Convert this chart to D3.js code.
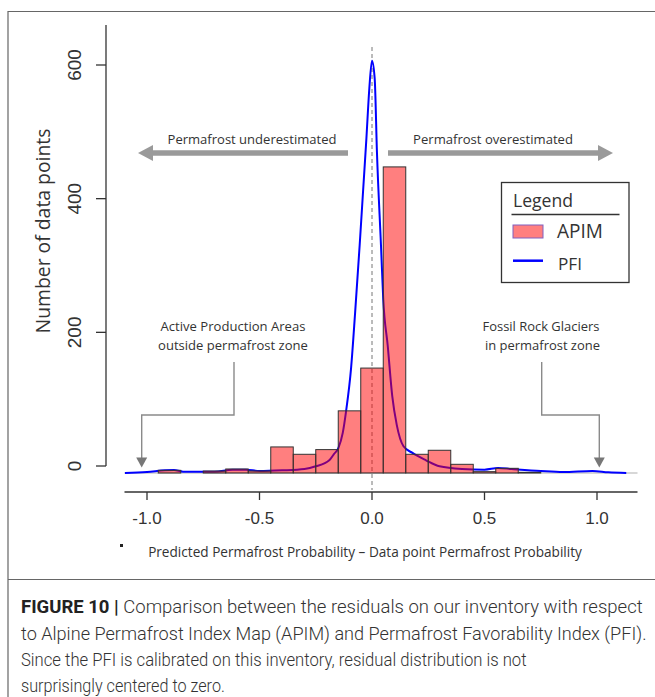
<!DOCTYPE html>
<html><head><meta charset="utf-8">
<script src="https://cdn.jsdelivr.net/npm/d3@7"></script>
<style>body{margin:0;background:#fff} svg{display:block}</style>
</head><body>
<script>
// ---------- data ----------
const binCenters = [-0.9,-0.8,-0.7,-0.6,-0.5,-0.4,-0.3,-0.2,-0.1,0.0,0.1,0.2,0.3,0.4,0.5,0.6,0.7];
const apimCounts = [4,0,3,6,3,39,28,35,93,157,458,28,34,13,2,7,1];
const binWidth = 0.1;

const pfiX = [-1.098,-1.0,-0.92,-0.88,-0.84,-0.7,-0.62,-0.56,-0.5,-0.4,-0.3,-0.25,-0.19,-0.17,-0.15,-0.13,-0.115,-0.093,-0.075,-0.055,-0.04,-0.025,-0.012,0.0,0.012,0.022,0.04,0.05,0.07,0.09,0.11,0.14,0.18,0.24,0.3,0.4,0.5,0.56,0.62,0.75,0.85,0.98,1.05,1.13];
const pfiY = [0,1.5,4,4.5,2,2,5,5,3,4,6,10,19,28,37,60,93,157,240,340,420,500,575,617,590,480,340,260,190,115,72,40,30,19,10,6,5,7.5,6,3,1.5,3,1,0];

const xTicks = [-1,-0.5,0,0.5,1];
const xTickLabels = ["-1.0","-0.5","0.0","0.5","1.0"];
const yTicks = [0,200,400,600];
const yTickLabels = ["0","200","400","600"];
const legendLabels = ["APIM","PFI"];
const xTitle = "Predicted Permafrost Probability \u2013 Data point Permafrost Probability";
const yTitle = "Number of data points";
const captionBold = "FIGURE 10 |";
const captionLines = [
  " Comparison between the residuals on our inventory with respect",
  "to Alpine Permafrost Index Map (APIM) and Permafrost Favorability Index (PFI).",
  "Since the PFI is calibrated on this inventory, residual distribution is not",
  "surprisingly centered to zero."
];

// ---------- layout ----------
const W = 655, H = 697;
const svg = d3.select("body").append("svg").attr("width", W).attr("height", H);
const x = d3.scaleLinear().domain([-1, 1]).range([147, 597]);
const yAx = d3.scaleLinear().domain([0, 600]).range([466, 65]);
const yH = d3.scaleLinear().domain([0, 600]).range([473, 72]);

const sansUI = "'Open Sans', 'Noto Sans', sans-serif";
const arial = "'Liberation Sans', Arial, sans-serif";

function fit(sel, w) {
  const len = sel.node().getComputedTextLength();
  const fs = parseFloat(sel.attr("font-size"));
  sel.attr("font-size", (fs * w / len).toFixed(2));
  return sel;
}

// frame
svg.append("path").attr("d", "M8,697 L8,11.5 L660,11.5 M8,579.5 L660,579.5")
  .attr("fill", "none").attr("stroke", "#666").attr("stroke-width", 1.2);

// baseline (histogram)
svg.append("line").attr("x1", x(-1.1)).attr("x2", x(1.18)).attr("y1", yH(0)).attr("y2", yH(0))
  .attr("stroke", "#b0b0b0").attr("stroke-width", 1.2);

// dashed zero line
svg.append("line").attr("x1", x(0)).attr("x2", x(0)).attr("y1", 47).attr("y2", 490)
  .attr("stroke", "#777").attr("stroke-width", 1).attr("stroke-dasharray", "4,3");

// PFI line
const pfi = pfiX.map((v, i) => [v, pfiY[i]]);
svg.append("path").datum(pfi)
  .attr("d", d3.line().x(d => x(d[0])).y(d => yH(d[1])).curve(d3.curveMonotoneX))
  .attr("fill", "none").attr("stroke", "#0000ff").attr("stroke-width", 2);

// APIM bars
svg.append("g").selectAll("rect").data(binCenters.map((c, i) => ({c, n: apimCounts[i]})).filter(d => d.n > 0))
  .join("rect")
  .attr("x", d => x(d.c - binWidth / 2))
  .attr("width", d => x(d.c + binWidth / 2) - x(d.c - binWidth / 2))
  .attr("y", d => yH(d.n))
  .attr("height", d => yH(0) - yH(d.n))
  .attr("fill", "rgba(255,0,0,0.5)")
  .attr("stroke", "#333").attr("stroke-width", 1);

// y axis
const ya = svg.append("g");
ya.append("line").attr("x1", 106).attr("x2", 106).attr("y1", yAx(0)).attr("y2", yAx(660))
  .attr("stroke", "#333").attr("stroke-width", 1.3);
yTicks.forEach((t, i) => {
  ya.append("line").attr("x1", 96).attr("x2", 106).attr("y1", yAx(t)).attr("y2", yAx(t))
    .attr("stroke", "#333").attr("stroke-width", 1.3);
  ya.append("text").attr("x", 81).attr("y", yAx(t))
    .attr("transform", `rotate(-90,81,${yAx(t)})`)
    .attr("text-anchor", "middle").attr("font-family", arial).attr("font-size", 19)
    .attr("fill", "#333").text(yTickLabels[i]);
});

// x axis
const xa = svg.append("g");
xa.append("line").attr("x1", x(-1.1)).attr("x2", x(1.18)).attr("y1", 492).attr("y2", 492)
  .attr("stroke", "#333").attr("stroke-width", 1.3);
xTicks.forEach((t, i) => {
  xa.append("line").attr("x1", x(t)).attr("x2", x(t)).attr("y1", 492).attr("y2", 500)
    .attr("stroke", "#333").attr("stroke-width", 1.3);
  xa.append("text").attr("x", x(t)).attr("y", 524).attr("text-anchor", "middle")
    .attr("font-family", arial).attr("font-size", 17).attr("fill", "#333").text(xTickLabels[i]);
});
svg.append("rect").attr("x", 120).attr("y", 544).attr("width", 3).attr("height", 3).attr("fill", "#222");

// titles
const xt = svg.append("text").attr("x", 365).attr("y", 557).attr("text-anchor", "middle")
  .attr("font-family", sansUI).attr("font-size", 13).attr("fill", "#333").text(xTitle);
fit(xt, 434);
const yt = svg.append("text").attr("x", 50).attr("y", 231).attr("transform", "rotate(-90,50,231)")
  .attr("text-anchor", "middle").attr("font-family", sansUI).attr("font-size", 18).attr("fill", "#333").text(yTitle);
fit(yt, 205);

// arrows
const gray = "#9a9a9a";
function arrow(x0, x1, yv) {
  const dir = Math.sign(x1 - x0);
  const hl = 15, hw = 8;
  svg.append("line").attr("x1", x0).attr("x2", x1 - dir * hl).attr("y1", yv).attr("y2", yv)
    .attr("stroke", gray).attr("stroke-width", 5.5);
  svg.append("path").attr("d", `M${x1},${yv} L${x1 - dir * hl},${yv - hw} L${x1 - dir * hl},${yv + hw} Z`).attr("fill", gray);
}
arrow(348, 138, 153);
arrow(388, 613, 153);

function label(txt, cx, by, w, fs) {
  const t = svg.append("text").attr("x", cx).attr("y", by).attr("text-anchor", "middle")
    .attr("font-family", sansUI).attr("font-size", fs).attr("fill", "#333").text(txt);
  fit(t, w);
}
label("Permafrost underestimated", 252, 144, 169, 14);
label("Permafrost overestimated", 493, 144, 160, 14);
label("Active Production Areas", 233, 331, 145, 14);
label("outside permafrost zone", 233, 350, 150, 14);
label("Fossil Rock Glaciers", 541, 331, 117, 14);
label("in permafrost zone", 542.5, 350, 115, 14);

// leader lines
const lead = "#8a8a8a";
function leader(xs, xe) {
  svg.append("path").attr("d", `M${xs},362 L${xs},415 L${xe},415 L${xe},458`)
    .attr("fill", "none").attr("stroke", lead).attr("stroke-width", 1.4);
  svg.append("path").attr("d", `M${xe - 5.5},457.5 L${xe + 5.5},457.5 L${xe},467.5 Z`).attr("fill", "#777");
}
leader(234, 141.7);
leader(541.7, 599.3);

// legend
const lg = svg.append("g");
lg.append("rect").attr("x", 501.5).attr("y", 182.5).attr("width", 127.5).attr("height", 100)
  .attr("fill", "#fff").attr("stroke", "#333").attr("stroke-width", 1.3);
fit(lg.append("text").attr("x", 513).attr("y", 207).attr("font-family", sansUI).attr("font-size", 16)
  .attr("fill", "#333").text("Legend"), 60);
lg.append("line").attr("x1", 511.5).attr("x2", 619.5).attr("y1", 214.5).attr("y2", 214.5)
  .attr("stroke", "#333").attr("stroke-width", 1.3);
lg.append("rect").attr("x", 513).attr("y", 225).attr("width", 30).attr("height", 13)
  .attr("fill", "#ff7f7f").attr("stroke", "#8060c0").attr("stroke-width", 1);
fit(lg.append("text").attr("x", 557).attr("y", 238).attr("font-family", sansUI).attr("font-size", 18)
  .attr("fill", "#333").text(legendLabels[0]), 46);
lg.append("line").attr("x1", 513).attr("x2", 543).attr("y1", 260.7).attr("y2", 260.7)
  .attr("stroke", "#0000ff").attr("stroke-width", 2.5);
fit(lg.append("text").attr("x", 558).attr("y", 270).attr("font-family", sansUI).attr("font-size", 18)
  .attr("fill", "#333").text(legendLabels[1]), 24);

// caption (horizontally condensed via scale transform)
const capW = [622, 626, 506, 204];
const capY = [613, 639.5, 666, 692];
captionLines.forEach((ln, i) => {
  const t = svg.append("text").attr("x", 0).attr("y", 0)
    .attr("font-family", "'Roboto', 'Liberation Sans', sans-serif")
    .attr("font-size", 19).attr("font-weight", 300).attr("fill", "#333");
  if (i === 0) t.append("tspan").attr("font-weight", "bold").attr("fill", "#222").text(captionBold);
  t.append("tspan").text(ln);
  const L = t.node().getComputedTextLength();
  t.attr("transform", `translate(21,${capY[i]}) scale(${(capW[i] / L).toFixed(4)},1)`);
});
</script>
</body></html>
